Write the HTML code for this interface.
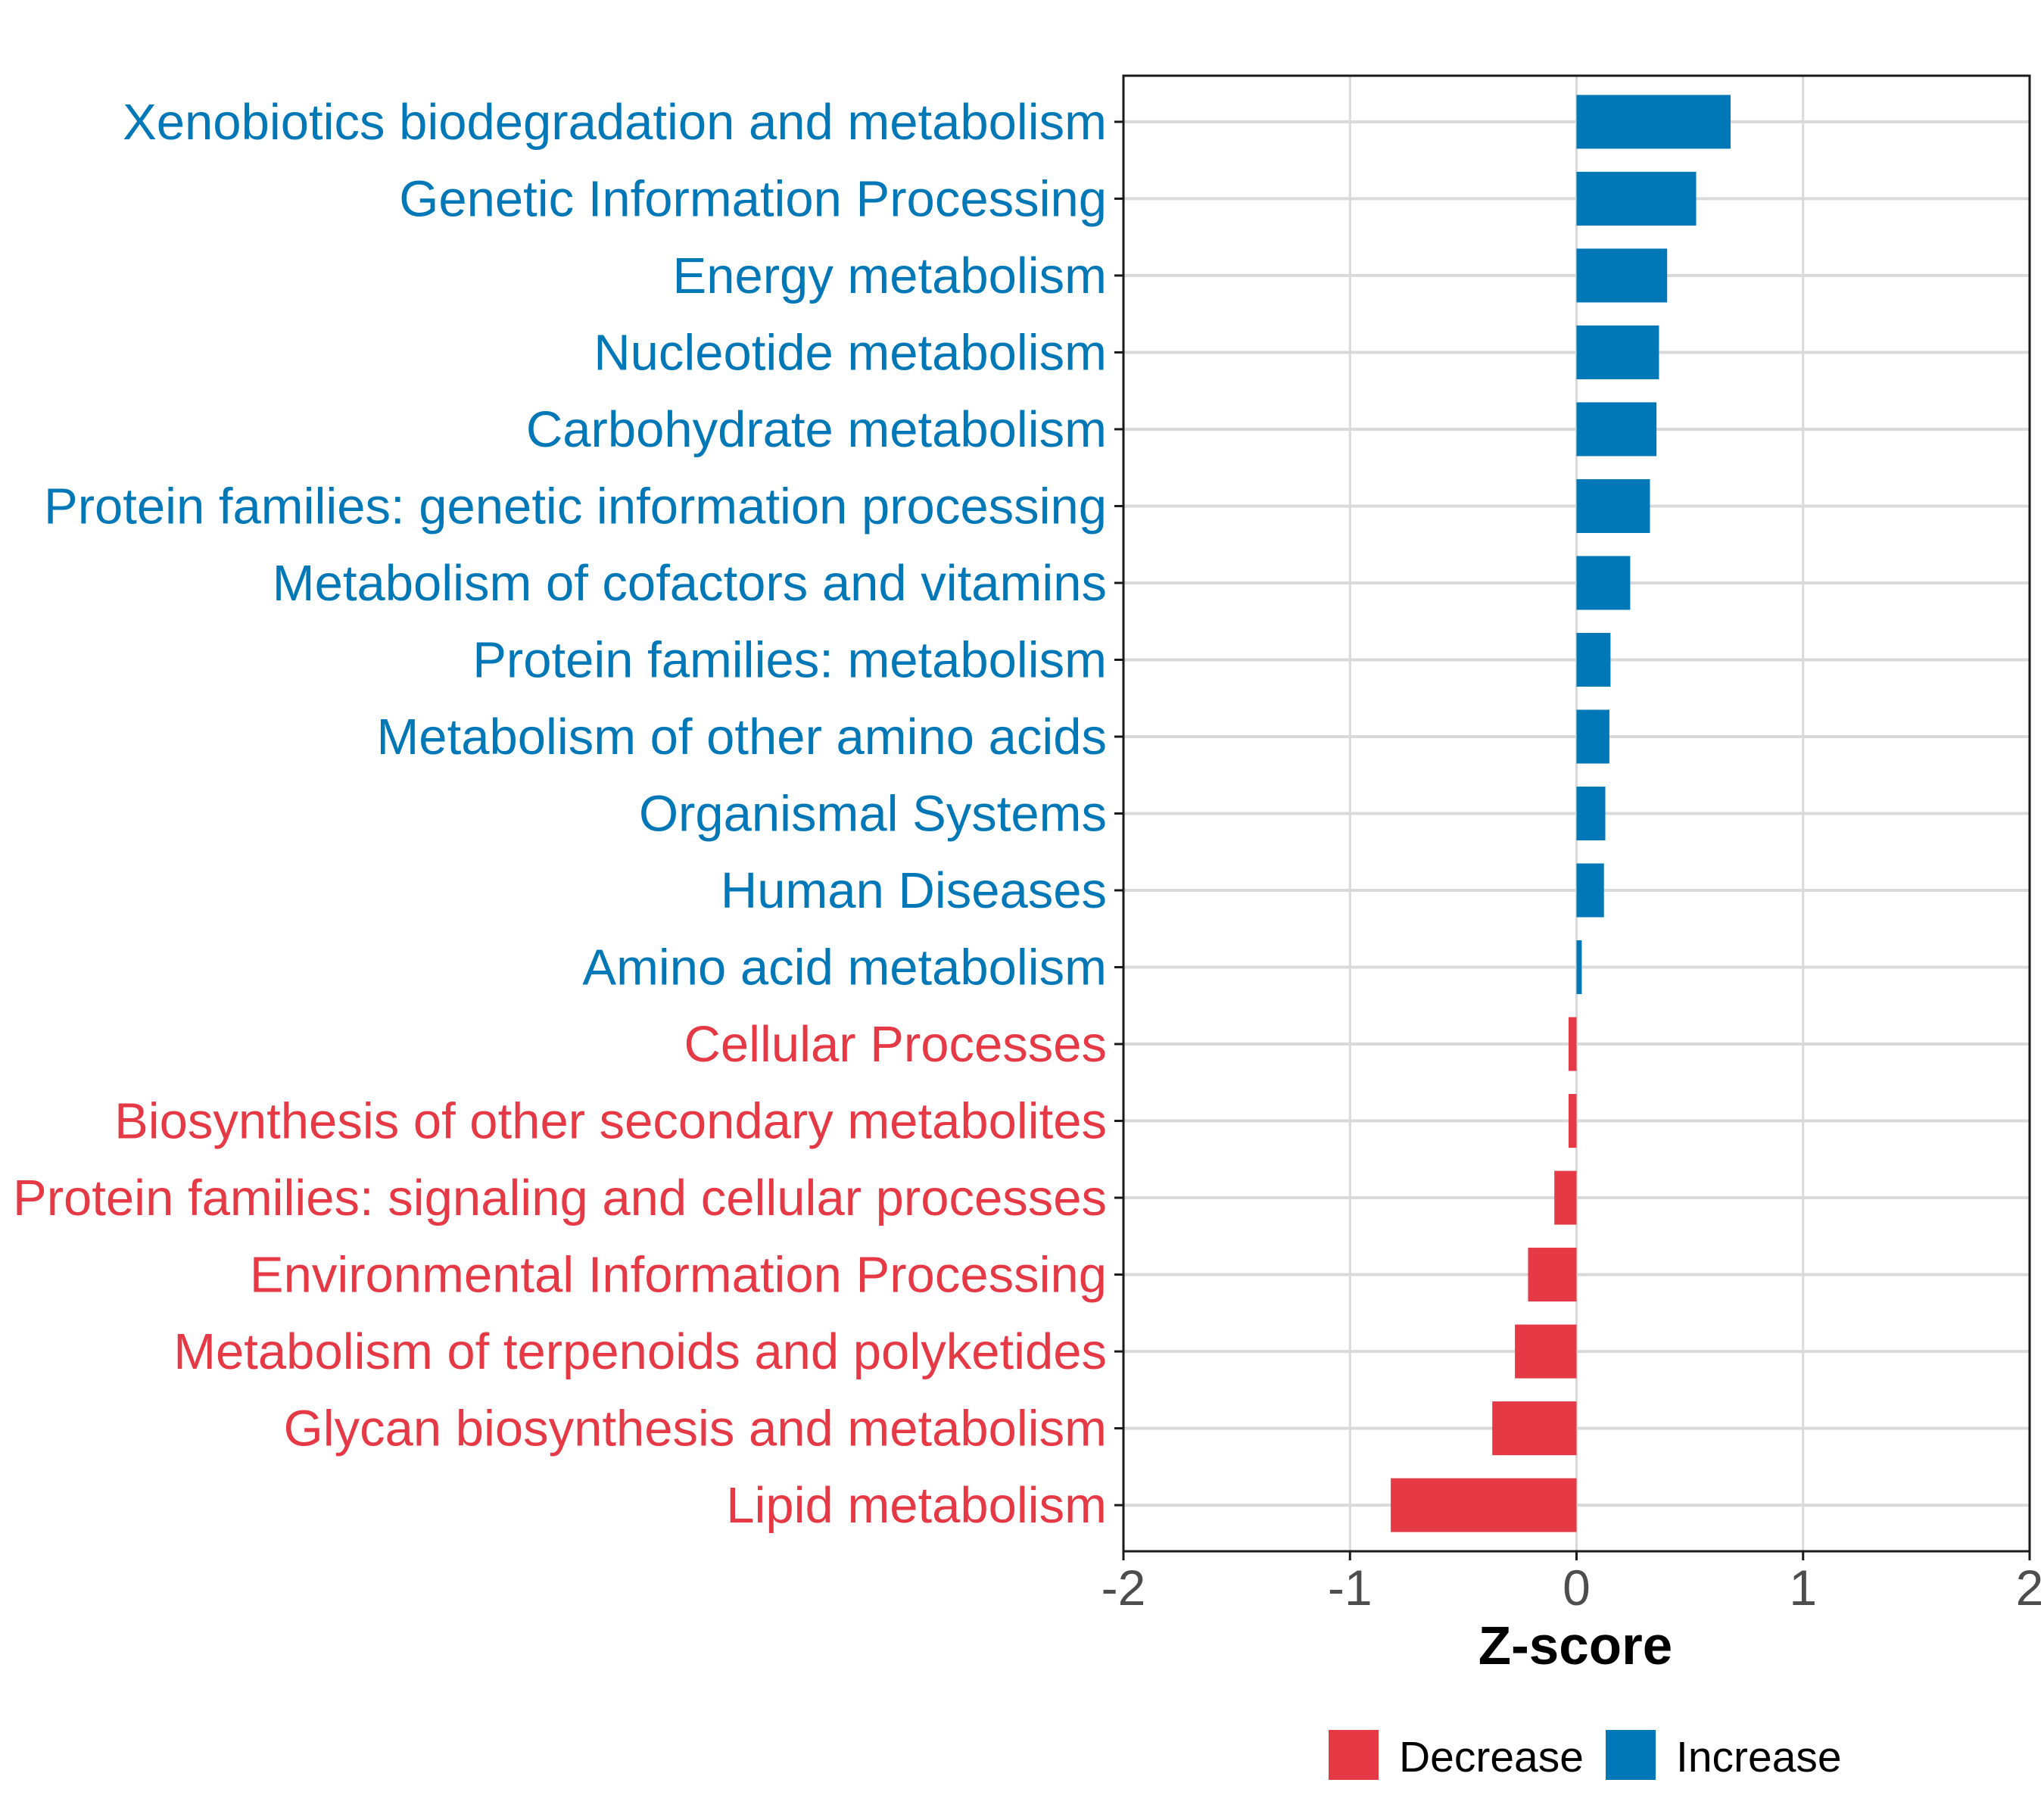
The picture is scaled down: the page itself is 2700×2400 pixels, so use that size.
<!DOCTYPE html>
<html><head><meta charset="utf-8"><style>
html,body{margin:0;padding:0;background:#fff;}
svg{display:block;font-family:"Liberation Sans",Arial,sans-serif;}
</style></head><body>
<svg id="chart" width="2700" height="2400" viewBox="0 0 2700 2400" xmlns="http://www.w3.org/2000/svg">
<rect width="2700" height="2400" fill="#fff"/>
<g id="grid"></g>
<g id="bars"></g>
<rect x="1484" y="100" width="1197" height="1949" fill="none" stroke="#1a1a1a" stroke-width="3"/>
<g id="ylabels"></g>
<g id="xticks"></g>
<text x="2081" y="2198" font-size="71" font-weight="bold" text-anchor="middle" fill="#000">Z-score</text>
<g>
<rect x="1755" y="2285" width="66" height="66" fill="#E63946"/>
<text x="1848" y="2340" font-size="57" fill="#000">Decrease</text>
<rect x="2121" y="2285" width="66" height="66" fill="#0077B6"/>
<text x="2214" y="2340" font-size="57" fill="#000">Increase</text>
</g>
</svg>
<script>
const categories = ["Xenobiotics biodegradation and metabolism","Genetic Information Processing","Energy metabolism","Nucleotide metabolism","Carbohydrate metabolism","Protein families: genetic information processing","Metabolism of cofactors and vitamins","Protein families: metabolism","Metabolism of other amino acids","Organismal Systems","Human Diseases","Amino acid metabolism","Cellular Processes","Biosynthesis of other secondary metabolites","Protein families: signaling and cellular processes","Environmental Information Processing","Metabolism of terpenoids and polyketides","Glycan biosynthesis and metabolism","Lipid metabolism"];
const zscores = [0.68,0.528,0.40,0.364,0.353,0.324,0.237,0.15,0.145,0.127,0.121,0.023,-0.035,-0.035,-0.098,-0.214,-0.272,-0.372,-0.82];
const xTicks = [-2,-1,0,1,2];
const xTickLabels = ["-2","-1","0","1","2"];

const NS = "http://www.w3.org/2000/svg";
const L = 1484, R = 2681, T = 100, B = 2049;
const xMin = -2, xMax = 2;
function xs(v){ return L + (v - xMin) / (xMax - xMin) * (R - L); }
const n = categories.length;
const step = (B - T) / (n + 0.2);
function ys(i){ return T + (0.6 + i) * step; }
function mk(tag, attrs, parent){
  const e = document.createElementNS(NS, tag);
  for (const k in attrs) e.setAttribute(k, attrs[k]);
  parent.appendChild(e); return e;
}
const grid = document.getElementById('grid');
const bars = document.getElementById('bars');
const yl = document.getElementById('ylabels');
const xt = document.getElementById('xticks');
xTicks.forEach((t, i) => {
  const x = xs(t);
  const g = mk('line', {x1:x, x2:x, y1:T, y2:B, stroke:'#d9d9d9', 'stroke-width':3}, grid);
  
  
  const tk = mk('line', {x1:x, x2:x, y1:B, y2:B+12, stroke:'#1a1a1a', 'stroke-width':3}, xt);
  
  
  const lb = mk('text', {x:x, y:2120, 'font-size':66, 'text-anchor':'middle', fill:'#4d4d4d'}, xt);
  lb.textContent = xTickLabels[i];
  
  
});
categories.forEach((c, i) => {
  const y = ys(i);
  const v = zscores[i];
  const col = v >= 0 ? '#0077B6' : '#E63946';
  const g = mk('line', {x1:L, x2:R, y1:y, y2:y, stroke:'#d9d9d9', 'stroke-width':4}, grid);
  
  
  const x0 = xs(0), x1 = xs(v);
  const bh = step * 0.7;
  const b = mk('rect', {x:Math.min(x0,x1), y:y-bh/2, width:Math.abs(x1-x0), height:bh, fill:col}, bars);
  
  
  const tk = mk('line', {x1:L-12, x2:L, y1:y, y2:y, stroke:'#1a1a1a', 'stroke-width':3}, yl);
  
  
  const t = mk('text', {x:1462, y:y+23, 'font-size':67, 'text-anchor':'end', fill:col}, yl);
  t.textContent = c;
  
  
});
</script>
</body></html>
